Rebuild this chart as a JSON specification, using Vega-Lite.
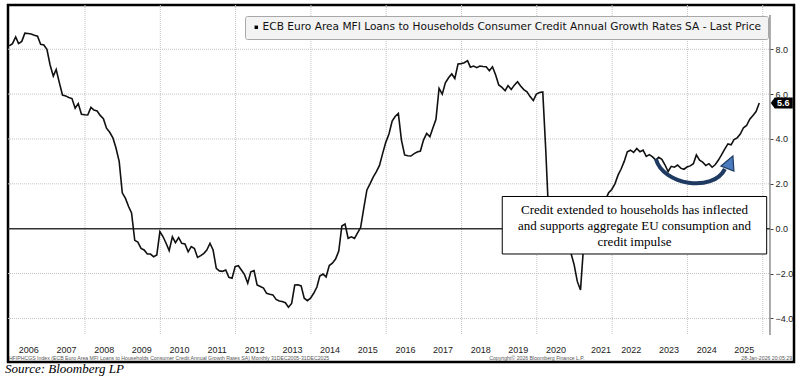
{
"$schema": "https://vega.github.io/schema/vega-lite/v6.json",
"width": 786, "height": 357,
"autosize": {"type": "none"},
"padding": {"left": 8, "top": 5, "right": 12, "bottom": 19},
"background": "#ffffff",
"title": {"text": "Source: Bloomberg LP", "orient": "bottom", "anchor": "start", "offset": 1, "baseline": "top", "dx": -1, "font": "Liberation Serif", "fontSize": 13, "fontStyle": "italic", "fontWeight": "normal", "color": "#000000"},
"config": {
  "view": {"stroke": "#000000", "strokeWidth": 2.5},
  "axis": {"labelFont": "Liberation Sans", "labelFontSize": 9, "labelColor": "#222222"}
},
"datasets": {
  "series": [
    {"date":"2005-12-28","v":8.15},
    {"date":"2006-01-28","v":8.25},{"date":"2006-02-28","v":8.55},{"date":"2006-03-28","v":8.25},{"date":"2006-04-28","v":8.35},{"date":"2006-05-28","v":8.72},{"date":"2006-06-28","v":8.7},{"date":"2006-07-28","v":8.68},{"date":"2006-08-28","v":8.62},{"date":"2006-09-28","v":8.58},{"date":"2006-10-28","v":8.22},{"date":"2006-11-28","v":8.19},{"date":"2006-12-28","v":8.0},
    {"date":"2007-01-28","v":7.3},{"date":"2007-02-28","v":6.8},{"date":"2007-03-28","v":7.1},{"date":"2007-04-28","v":6.5},{"date":"2007-05-28","v":5.96},{"date":"2007-06-28","v":5.92},{"date":"2007-07-28","v":5.85},{"date":"2007-08-28","v":5.8},{"date":"2007-09-28","v":5.37},{"date":"2007-10-28","v":5.58},{"date":"2007-11-28","v":5.1},{"date":"2007-12-28","v":5.08},
    {"date":"2008-01-28","v":5.07},{"date":"2008-02-28","v":5.41},{"date":"2008-03-28","v":5.29},{"date":"2008-04-28","v":5.25},{"date":"2008-05-28","v":5.05},{"date":"2008-06-28","v":4.9},{"date":"2008-07-28","v":4.48},{"date":"2008-08-28","v":4.3},{"date":"2008-09-28","v":4.05},{"date":"2008-10-28","v":3.6},{"date":"2008-11-28","v":3.0},{"date":"2008-12-28","v":1.6},
    {"date":"2009-01-28","v":1.35},{"date":"2009-02-28","v":0.98},{"date":"2009-03-28","v":0.7},{"date":"2009-04-28","v":-0.52},{"date":"2009-05-28","v":-0.6},{"date":"2009-06-28","v":-0.88},{"date":"2009-07-28","v":-0.95},{"date":"2009-08-28","v":-1.13},{"date":"2009-09-28","v":-1.13},{"date":"2009-10-28","v":-1.25},{"date":"2009-11-28","v":-1.17},{"date":"2009-12-28","v":-0.13},
    {"date":"2010-01-28","v":-0.36},{"date":"2010-02-28","v":-0.67},{"date":"2010-03-28","v":-0.98},{"date":"2010-04-28","v":-0.36},{"date":"2010-05-28","v":-0.62},{"date":"2010-06-28","v":-0.4},{"date":"2010-07-28","v":-0.65},{"date":"2010-08-28","v":-0.68},{"date":"2010-09-28","v":-1.03},{"date":"2010-10-28","v":-0.8},{"date":"2010-11-28","v":-0.88},{"date":"2010-12-28","v":-1.28},
    {"date":"2011-01-28","v":-1.2},{"date":"2011-02-28","v":-1.1},{"date":"2011-03-28","v":-0.95},{"date":"2011-04-28","v":-0.65},{"date":"2011-05-28","v":-0.95},{"date":"2011-06-28","v":-1.77},{"date":"2011-07-28","v":-1.88},{"date":"2011-08-28","v":-1.9},{"date":"2011-09-28","v":-1.84},{"date":"2011-10-28","v":-2.17},{"date":"2011-11-28","v":-2.21},{"date":"2011-12-28","v":-1.69},
    {"date":"2012-01-28","v":-1.65},{"date":"2012-02-28","v":-1.85},{"date":"2012-03-28","v":-2.05},{"date":"2012-04-28","v":-2.43},{"date":"2012-05-28","v":-1.92},{"date":"2012-06-28","v":-1.87},{"date":"2012-07-28","v":-2.51},{"date":"2012-08-28","v":-2.58},{"date":"2012-09-28","v":-2.65},{"date":"2012-10-28","v":-2.88},{"date":"2012-11-28","v":-2.92},{"date":"2012-12-28","v":-2.95},
    {"date":"2013-01-28","v":-3.15},{"date":"2013-02-28","v":-3.22},{"date":"2013-03-28","v":-3.25},{"date":"2013-04-28","v":-3.3},{"date":"2013-05-28","v":-3.5},{"date":"2013-06-28","v":-3.33},{"date":"2013-07-28","v":-2.51},{"date":"2013-08-28","v":-2.5},{"date":"2013-09-28","v":-2.55},{"date":"2013-10-28","v":-3.1},{"date":"2013-11-28","v":-3.21},{"date":"2013-12-28","v":-3.1},
    {"date":"2014-01-28","v":-2.88},{"date":"2014-02-28","v":-2.6},{"date":"2014-03-28","v":-2.11},{"date":"2014-04-28","v":-2.02},{"date":"2014-05-28","v":-2.15},{"date":"2014-06-28","v":-1.64},{"date":"2014-07-28","v":-1.54},{"date":"2014-08-28","v":-1.35},{"date":"2014-09-28","v":-1.0},{"date":"2014-10-28","v":0.12},{"date":"2014-11-28","v":0.21},{"date":"2014-12-28","v":-0.43},
    {"date":"2015-01-28","v":-0.36},{"date":"2015-02-28","v":-0.43},{"date":"2015-03-28","v":-0.2},{"date":"2015-04-28","v":0.05},{"date":"2015-05-28","v":0.9},{"date":"2015-06-28","v":1.73},{"date":"2015-07-28","v":2.0},{"date":"2015-08-28","v":2.3},{"date":"2015-09-28","v":2.54},{"date":"2015-10-28","v":2.82},{"date":"2015-11-28","v":3.36},{"date":"2015-12-28","v":3.85},
    {"date":"2016-01-28","v":4.22},{"date":"2016-02-28","v":4.8},{"date":"2016-03-28","v":5.0},{"date":"2016-04-28","v":5.14},{"date":"2016-05-28","v":3.95},{"date":"2016-06-28","v":3.29},{"date":"2016-07-28","v":3.25},{"date":"2016-08-28","v":3.24},{"date":"2016-09-28","v":3.35},{"date":"2016-10-28","v":3.42},{"date":"2016-11-28","v":3.46},{"date":"2016-12-28","v":3.95},
    {"date":"2017-01-28","v":4.25},{"date":"2017-02-28","v":4.1},{"date":"2017-03-28","v":4.48},{"date":"2017-04-28","v":4.88},{"date":"2017-05-28","v":6.26},{"date":"2017-06-28","v":6.0},{"date":"2017-07-28","v":6.5},{"date":"2017-08-28","v":6.73},{"date":"2017-09-28","v":6.9},{"date":"2017-10-28","v":6.7},{"date":"2017-11-28","v":7.34},{"date":"2017-12-28","v":7.36},
    {"date":"2018-01-28","v":7.4},{"date":"2018-02-28","v":7.49},{"date":"2018-03-28","v":7.2},{"date":"2018-04-28","v":7.25},{"date":"2018-05-28","v":7.18},{"date":"2018-06-28","v":7.25},{"date":"2018-07-28","v":7.23},{"date":"2018-08-28","v":7.22},{"date":"2018-09-28","v":7.04},{"date":"2018-10-28","v":7.22},{"date":"2018-11-28","v":6.85},{"date":"2018-12-28","v":6.41},
    {"date":"2019-01-28","v":6.3},{"date":"2019-02-28","v":6.15},{"date":"2019-03-28","v":6.38},{"date":"2019-04-28","v":6.21},{"date":"2019-05-28","v":6.4},{"date":"2019-06-28","v":6.55},{"date":"2019-07-28","v":6.36},{"date":"2019-08-28","v":6.2},{"date":"2019-09-28","v":6.1},{"date":"2019-10-28","v":5.89},{"date":"2019-11-28","v":5.71},{"date":"2019-12-28","v":6.0},
    {"date":"2020-01-28","v":6.07},{"date":"2020-02-28","v":6.1},{"date":"2020-03-28","v":3.5},{"date":"2020-04-28","v":0.3},{"date":"2020-05-28","v":-0.3},{"date":"2020-06-28","v":-0.6},{"date":"2020-07-28","v":-0.8},{"date":"2020-08-28","v":-0.9},{"date":"2020-09-28","v":-1.0},{"date":"2020-10-28","v":-1.0},{"date":"2020-11-28","v":-1.1},{"date":"2020-12-28","v":-1.6},
    {"date":"2021-01-28","v":-2.35},{"date":"2021-02-28","v":-2.73},{"date":"2021-03-28","v":-0.9},{"date":"2021-04-28","v":0.0},{"date":"2021-05-28","v":0.4},{"date":"2021-06-28","v":0.6},{"date":"2021-07-28","v":0.8},{"date":"2021-08-28","v":1.0},{"date":"2021-09-28","v":1.15},{"date":"2021-10-28","v":1.3},{"date":"2021-11-28","v":1.6},{"date":"2021-12-28","v":1.75},
    {"date":"2022-01-28","v":2.0},{"date":"2022-02-28","v":2.4},{"date":"2022-03-28","v":2.65},{"date":"2022-04-28","v":3.0},{"date":"2022-05-28","v":3.43},{"date":"2022-06-28","v":3.5},{"date":"2022-07-28","v":3.4},{"date":"2022-08-28","v":3.58},{"date":"2022-09-28","v":3.43},{"date":"2022-10-28","v":3.5},{"date":"2022-11-28","v":3.22},{"date":"2022-12-28","v":3.3},
    {"date":"2023-01-28","v":3.2},{"date":"2023-02-28","v":3.06},{"date":"2023-03-28","v":3.18},{"date":"2023-04-28","v":3.09},{"date":"2023-05-28","v":2.85},{"date":"2023-06-28","v":2.55},{"date":"2023-07-28","v":2.78},{"date":"2023-08-28","v":2.74},{"date":"2023-09-28","v":2.84},{"date":"2023-10-28","v":2.7},{"date":"2023-11-28","v":2.65},{"date":"2023-12-28","v":2.75},
    {"date":"2024-01-28","v":2.8},{"date":"2024-02-28","v":2.9},{"date":"2024-03-28","v":3.29},{"date":"2024-04-28","v":3.06},{"date":"2024-05-28","v":2.97},{"date":"2024-06-28","v":2.82},{"date":"2024-07-28","v":2.9},{"date":"2024-08-28","v":2.74},{"date":"2024-09-28","v":2.86},{"date":"2024-10-28","v":3.06},{"date":"2024-11-28","v":3.3},{"date":"2024-12-28","v":3.55},
    {"date":"2025-01-28","v":3.78},{"date":"2025-02-28","v":3.74},{"date":"2025-03-28","v":3.97},{"date":"2025-04-28","v":4.05},{"date":"2025-05-28","v":4.22},{"date":"2025-06-28","v":4.5},{"date":"2025-07-28","v":4.6},{"date":"2025-08-28","v":4.88},{"date":"2025-09-28","v":5.05},{"date":"2025-10-28","v":5.22},{"date":"2025-11-28","v":5.6}
  ],
  "ygrid": [{"v":-4},{"v":-2},{"v":2},{"v":4},{"v":6},{"v":8}],
  "xgrid": [{"date":"2008-01-01"},{"date":"2010-01-01"},{"date":"2012-01-01"},{"date":"2014-01-01"},{"date":"2016-01-01"},{"date":"2018-01-01"},{"date":"2020-01-01"},{"date":"2022-01-01"},{"date":"2024-01-01"},{"date":"2026-01-01"}],
  "one": [{}]
},
"layer": [
  {
    "data": {"name": "xgrid"},
    "mark": {"type": "rule", "color": "#c4c4c4", "strokeWidth": 1, "strokeDash": [1, 1]},
    "encoding": {
      "x": {"field": "date", "type": "temporal",
        "scale": {"type": "utc", "nice": false, "domain": [{"year": 2005, "month": 12, "date": 15, "hours": 12, "utc": true}, {"year": 2026, "month": 10, "date": 31, "utc": true}]},
        "axis": {"orient": "bottom", "offset": -18, "domain": false, "ticks": false, "grid": false, "labelPadding": 1, "format": "%Y", "title": null, "labelFlush": false, "labelOverlap": false,
          "values": [{"year":2006,"month":7,"date":1,"utc":true},{"year":2007,"month":7,"date":1,"utc":true},{"year":2008,"month":7,"date":1,"utc":true},{"year":2009,"month":7,"date":1,"utc":true},{"year":2010,"month":7,"date":1,"utc":true},{"year":2011,"month":7,"date":1,"utc":true},{"year":2012,"month":7,"date":1,"utc":true},{"year":2013,"month":7,"date":1,"utc":true},{"year":2014,"month":7,"date":1,"utc":true},{"year":2015,"month":7,"date":1,"utc":true},{"year":2016,"month":7,"date":1,"utc":true},{"year":2017,"month":7,"date":1,"utc":true},{"year":2018,"month":7,"date":1,"utc":true},{"year":2019,"month":7,"date":1,"utc":true},{"year":2020,"month":7,"date":1,"utc":true},{"year":2021,"month":9,"date":10,"utc":true},{"year":2022,"month":7,"date":1,"utc":true},{"year":2023,"month":7,"date":1,"utc":true},{"year":2024,"month":7,"date":1,"utc":true},{"year":2025,"month":7,"date":1,"utc":true}]}},
      "y": {"datum": 9.973, "type": "quantitative",
        "scale": {"domain": [-5.943, 9.973], "nice": false, "zero": false},
        "axis": {"orient": "right", "offset": -24, "domain": false, "ticks": true, "tickSize": 3, "tickColor": "#444444", "grid": false, "values": [-4, -2, 0, 2, 4, 6, 8], "format": ".1f", "labelPadding": 2, "title": null, "labelFlush": false}},
      "y2": {"datum": -4.74}
    }
  },
  {
    "data": {"name": "ygrid"},
    "mark": {"type": "rule", "color": "#c4c4c4", "strokeWidth": 1, "strokeDash": [1, 1]},
    "encoding": {
      "y": {"field": "v", "type": "quantitative"},
      "x": {"datum": {"year": 2005, "month": 12, "date": 15, "hours": 12, "utc": true}, "type": "temporal"},
      "x2": {"datum": {"year": 2026, "month": 3, "date": 12, "utc": true}}
    }
  },
  {
    "data": {"name": "one"},
    "mark": {"type": "rule", "color": "#333333", "strokeWidth": 1.5},
    "encoding": {
      "y": {"datum": 0, "type": "quantitative"},
      "x": {"datum": {"year": 2005, "month": 12, "date": 15, "hours": 12, "utc": true}, "type": "temporal"},
      "x2": {"datum": {"year": 2026, "month": 3, "date": 12, "utc": true}}
    }
  },
  {
    "data": {"name": "one"},
    "mark": {"type": "rule", "color": "#555555", "strokeWidth": 1},
    "encoding": {
      "x": {"datum": {"year": 2026, "month": 3, "date": 12, "utc": true}, "type": "temporal"},
      "y": {"datum": 9.53, "type": "quantitative"},
      "y2": {"datum": -4.74}
    }
  },
  {
    "data": {"name": "series"},
    "mark": {"type": "line", "strokeWidth": 1.6, "interpolate": "linear"},
    "encoding": {
      "x": {"field": "date", "type": "temporal"},
      "y": {"field": "v", "type": "quantitative"},
      "color": {"datum": "ECB Euro Area MFI Loans to Households Consumer Credit Annual Growth Rates SA - Last Price", "type": "nominal",
        "scale": {"range": ["#111111"]},
        "legend": {"orient": "none", "legendX": 237, "legendY": 11, "title": null, "fillColor": "#f3f3f3", "strokeColor": "#a8a8a8", "padding": 6, "cornerRadius": 2, "labelFont": "DejaVu Sans", "labelFontSize": 10.6, "labelColor": "#111111", "labelLimit": 0, "labelOffset": 1, "symbolType": "square", "symbolSize": 12, "symbolStrokeWidth": 0, "symbolFillColor": "#000000",
          "encode": {"symbols": {"update": {"fill": {"value": "#000000"}, "strokeWidth": {"value": 0}}}}}}
    }
  },
  {
    "data": {"name": "one"},
    "mark": {"type": "rect", "fill": "#ffffff", "stroke": "#000000", "strokeWidth": 1},
    "encoding": {
      "x": {"datum": {"year": 2019, "month": 1, "date": 31, "utc": true}, "type": "temporal"},
      "x2": {"datum": {"year": 2026, "month": 2, "date": 8, "utc": true}},
      "y": {"datum": 1.436, "type": "quantitative"},
      "y2": {"datum": -1.128}
    }
  },
  {
    "data": {"name": "one"},
    "mark": {"type": "text", "text": ["Credit extended to households has inflected", "and supports aggregate EU consumption and", "credit impulse"], "font": "Liberation Serif", "fontSize": 13, "lineHeight": 16, "align": "center", "baseline": "middle", "color": "#000000"},
    "encoding": {
      "x": {"datum": {"year": 2022, "month": 8, "date": 6, "utc": true}, "type": "temporal"},
      "y": {"datum": 0.834, "type": "quantitative"}
    }
  },
  {
    "data": {"name": "one"},
    "mark": {"type": "point", "shape": "M-35,-6C-28,20 22,28 34,4", "size": 4, "filled": false, "stroke": "#1f3a60", "strokeWidth": 4, "opacity": 1, "strokeCap": "butt"},
    "encoding": {
      "x": {"datum": {"year": 2024, "month": 2, "date": 4, "utc": true}, "type": "temporal"},
      "y": {"datum": 2.84, "type": "quantitative"}
    }
  },
  {
    "data": {"name": "one"},
    "mark": {"type": "point", "shape": "M42,-9L30,1L43,6Z", "size": 4, "filled": true, "fill": "#4a7bbf", "stroke": "#1f3a60", "strokeWidth": 1.2, "opacity": 1},
    "encoding": {
      "x": {"datum": {"year": 2024, "month": 2, "date": 4, "utc": true}, "type": "temporal"},
      "y": {"datum": 2.84, "type": "quantitative"}
    }
  },
  {
    "data": {"name": "series"},
    "transform": [{"window": [{"op": "row_number", "as": "rn"}], "sort": [{"field": "date", "order": "descending"}]}, {"filter": "datum.rn == 1"}],
    "mark": {"type": "point", "shape": "M-11,0L-7,-5.5L11,-5.5L11,5.5L-7,5.5Z", "size": 4, "filled": true, "color": "#000000", "opacity": 1, "xOffset": 22.5},
    "encoding": {
      "x": {"field": "date", "type": "temporal"},
      "y": {"field": "v", "type": "quantitative"}
    }
  },
  {
    "data": {"name": "series"},
    "transform": [{"window": [{"op": "row_number", "as": "rn"}], "sort": [{"field": "date", "order": "descending"}]}, {"filter": "datum.rn == 1"}],
    "mark": {"type": "text", "dx": 24, "align": "center", "baseline": "middle", "font": "Liberation Sans", "fontSize": 9, "fontWeight": "bold", "color": "#ffffff"},
    "encoding": {
      "x": {"field": "date", "type": "temporal"},
      "y": {"field": "v", "type": "quantitative"},
      "text": {"field": "v", "type": "quantitative", "format": ".1f"}
    }
  },
  {
    "data": {"name": "one"},
    "mark": {"type": "text", "text": "HFIPHCGS Index (ECB Euro Area MFI Loans to Households Consumer Credit Annual Growth Rates SA) Monthly 31DEC2005-31DEC2025", "font": "Liberation Sans", "fontSize": 5.2, "align": "left", "baseline": "middle", "color": "#555555"},
    "encoding": {
      "x": {"datum": {"year": 2005, "month": 12, "date": 24, "utc": true}, "type": "temporal"},
      "y": {"datum": -5.765, "type": "quantitative"}
    }
  },
  {
    "data": {"name": "one"},
    "mark": {"type": "text", "text": "Copyright© 2026 Bloomberg Finance L.P.", "font": "Liberation Sans", "fontSize": 5.2, "align": "center", "baseline": "middle", "color": "#555555"},
    "encoding": {
      "x": {"datum": {"year": 2020, "month": 1, "date": 2, "utc": true}, "type": "temporal"},
      "y": {"datum": -5.765, "type": "quantitative"}
    }
  },
  {
    "data": {"name": "one"},
    "mark": {"type": "text", "text": "28-Jan-2026 20:05:29", "font": "Liberation Sans", "fontSize": 5.2, "align": "right", "baseline": "middle", "color": "#555555"},
    "encoding": {
      "x": {"datum": {"year": 2026, "month": 10, "date": 12, "utc": true}, "type": "temporal"},
      "y": {"datum": -5.765, "type": "quantitative"}
    }
  }
]
}
